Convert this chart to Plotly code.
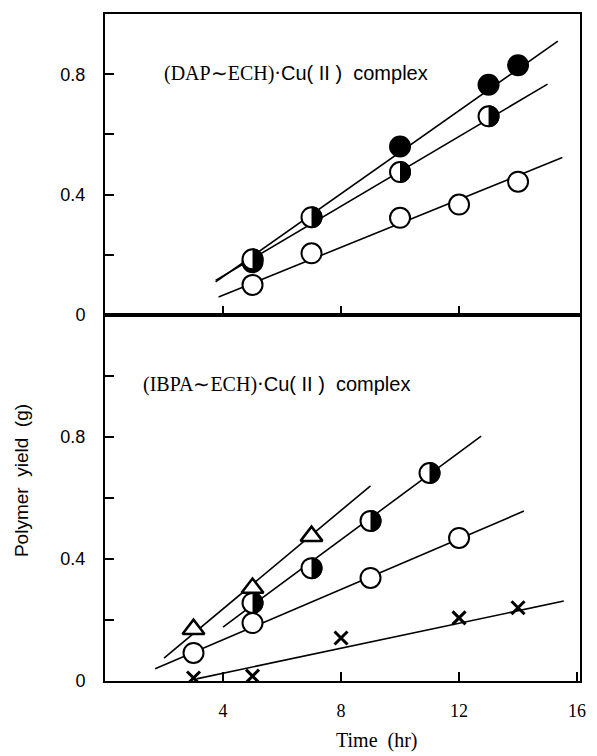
import plotly.graph_objects as go

# ---------------- data ----------------
# Top panel: (DAP~ECH)·Cu(II) complex
top_filled_x = [5, 10, 13, 14]
top_filled_y = [0.175, 0.56, 0.765, 0.83]
top_half_x = [5, 7, 10, 13]
top_half_y = [0.185, 0.325, 0.475, 0.66]
top_open_x = [5, 7, 10, 12, 14]
top_open_y = [0.10, 0.205, 0.323, 0.367, 0.443]

top_filled_line_x = [3.75, 15.35]
top_filled_line_y = [0.11, 0.91]
top_half_line_x = [3.75, 15.0]
top_half_line_y = [0.115, 0.767]
top_open_line_x = [3.85, 15.5]
top_open_line_y = [0.06, 0.523]

# Bottom panel: (IBPA~ECH)·Cu(II) complex
bot_tri_x = [3, 5, 7]
bot_tri_y = [0.17, 0.305, 0.475]
bot_half_x = [5, 7, 9, 11]
bot_half_y = [0.256, 0.37, 0.525, 0.682]
bot_open_x = [3, 5, 9, 12]
bot_open_y = [0.092, 0.19, 0.338, 0.469]
bot_cross_x = [3, 5, 8, 12, 14]
bot_cross_y = [0.01, 0.016, 0.141, 0.207, 0.24]

bot_tri_line_x = [2.0, 9.0]
bot_tri_line_y = [0.075, 0.64]
bot_half_line_x = [4.0, 12.75]
bot_half_line_y = [0.177, 0.803]
bot_open_line_x = [1.7, 14.2]
bot_open_line_y = [0.04, 0.557]
bot_cross_line_x = [3.1, 15.55]
bot_cross_line_y = [0.007, 0.262]

x_tickvals = [4, 8, 12, 16]
x_ticktext = ["4", "8", "12", "16"]
top_y_tickvals = [0, 0.2, 0.4, 0.6, 0.8]
top_y_ticktext = ["0", "", "0.4", "", "0.8"]
bot_y_tickvals = [0, 0.2, 0.4, 0.6, 0.8, 1.0]
bot_y_ticktext = ["0", "", "0.4", "", "0.8", ""]

top_title = '(DAP∼ECH)·<span style="font-family:Liberation Sans">Cu( II )  complex</span>'
bot_title = '(IBPA∼ECH)·<span style="font-family:Liberation Sans">Cu( II )  complex</span>'
x_title = "Time  (hr)"
y_title = "Polymer  yield  (g)"

# ---------------- figure ----------------
W, H = 597, 756
ML, MR, MT, MB = 105, 11, 14, 75
split = (681 - 315) / (H - MT - MB)

SERIF = "Liberation Serif"
SANS = "Liberation Sans"

fig = go.Figure()

def line(x, y, xa, ya):
    fig.add_trace(go.Scatter(x=x, y=y, mode="lines", xaxis=xa, yaxis=ya,
                             line=dict(color="black", width=1.6),
                             showlegend=False, hoverinfo="skip"))

def pts(x, y, xa, ya, symbol, fill, size=20, lw=2):
    fig.add_trace(go.Scatter(x=x, y=y, mode="markers", xaxis=xa, yaxis=ya,
                             marker=dict(symbol=symbol, size=size, color=fill,
                                         line=dict(color="black", width=lw)),
                             showlegend=False))

# top panel (xaxis2 / yaxis2)
line(top_filled_line_x, top_filled_line_y, "x2", "y2")
line(top_half_line_x, top_half_line_y, "x2", "y2")
line(top_open_line_x, top_open_line_y, "x2", "y2")
pts(top_open_x, top_open_y, "x2", "y2", "circle", "white")
pts(top_filled_x, top_filled_y, "x2", "y2", "circle", "black")
pts(top_half_x, top_half_y, "x2", "y2", "circle", "white")

# bottom panel (xaxis / yaxis)
line(bot_tri_line_x, bot_tri_line_y, "x", "y")
line(bot_half_line_x, bot_half_line_y, "x", "y")
line(bot_open_line_x, bot_open_line_y, "x", "y")
line(bot_cross_line_x, bot_cross_line_y, "x", "y")
pts(bot_open_x, bot_open_y, "x", "y", "circle", "white")
pts(bot_half_x, bot_half_y, "x", "y", "circle", "white")
pts(bot_tri_x, bot_tri_y, "x", "y", "triangle-up", "white", size=19, lw=2.5)
pts(bot_cross_x, bot_cross_y, "x", "y", "x-thin", "black", size=13, lw=3)

# half-filled (right half black) overlays, anchored at data points, sized in pixels
r = 11.0
k = 0.5523 * r
half_path = (f"M0,{-r} C{k},{-r} {r},{-k} {r},0 "
             f"C{r},{k} {k},{r} 0,{r} Z")
shapes = []
for xs, ys, xr, yr in [(top_half_x, top_half_y, "x2", "y2"),
                       (bot_half_x, bot_half_y, "x", "y")]:
    for xv, yv in zip(xs, ys):
        shapes.append(dict(type="path", xref=xr, yref=yr,
                           xsizemode="pixel", ysizemode="pixel",
                           xanchor=xv, yanchor=yv, path=half_path,
                           fillcolor="black", line=dict(width=0),
                           layer="above"))

axis_common = dict(showline=True, linecolor="black", linewidth=2, mirror=True,
                   showgrid=False, zeroline=False, ticks="inside", ticklen=9,
                   tickwidth=2, tickcolor="black")
yfont = dict(family=SANS, size=18, color="black")
xfont = dict(family=SERIF, size=18, color="black")

fig.update_layout(
    width=W, height=H,
    margin=dict(l=ML, r=MR, t=MT, b=MB),
    paper_bgcolor="white", plot_bgcolor="white",
    xaxis=dict(domain=[0, 1], anchor="y", range=[0, 16.1],
               tickvals=x_tickvals, ticktext=x_ticktext, tickfont=xfont,
               ticklabelstandoff=12, **axis_common),
    yaxis=dict(domain=[0, split], anchor="x", range=[0, 1.2],
               tickvals=bot_y_tickvals, ticktext=bot_y_ticktext, tickfont=yfont,
               ticklabelstandoff=14, **axis_common),
    xaxis2=dict(domain=[0, 1], anchor="y2", range=[0, 16.1], matches="x",
                tickvals=[4, 8, 12], showticklabels=False, **axis_common),
    yaxis2=dict(domain=[split, 1], anchor="x2", range=[0, 1.0],
                tickvals=top_y_tickvals, ticktext=top_y_ticktext, tickfont=yfont,
                ticklabelstandoff=14, **axis_common),
    shapes=shapes,
    annotations=[
        dict(text=top_title, xref="paper", yref="paper",
             x=(163 - ML) / (W - ML - MR), y=1 - (73 - MT) / (H - MT - MB),
             xanchor="left", yanchor="middle", showarrow=False,
             font=dict(family=SERIF, size=20, color="black")),
        dict(text=bot_title, xref="paper", yref="paper",
             x=(141 - ML) / (W - ML - MR), y=1 - (384 - MT) / (H - MT - MB),
             xanchor="left", yanchor="middle", showarrow=False,
             font=dict(family=SERIF, size=20, color="black")),
        dict(text=x_title, xref="paper", yref="paper",
             x=(380 - ML) / (W - ML - MR), y=1 - (740 - MT) / (H - MT - MB),
             xanchor="center", yanchor="middle", showarrow=False,
             font=dict(family=SERIF, size=20, color="black")),
        dict(text=y_title, xref="paper", yref="paper", textangle=-90,
             x=(20 - ML) / (W - ML - MR), y=1 - (481 - MT) / (H - MT - MB),
             xanchor="center", yanchor="middle", showarrow=False,
             font=dict(family=SANS, size=19, color="black")),
    ],
)

fig.write_html("out.html")
